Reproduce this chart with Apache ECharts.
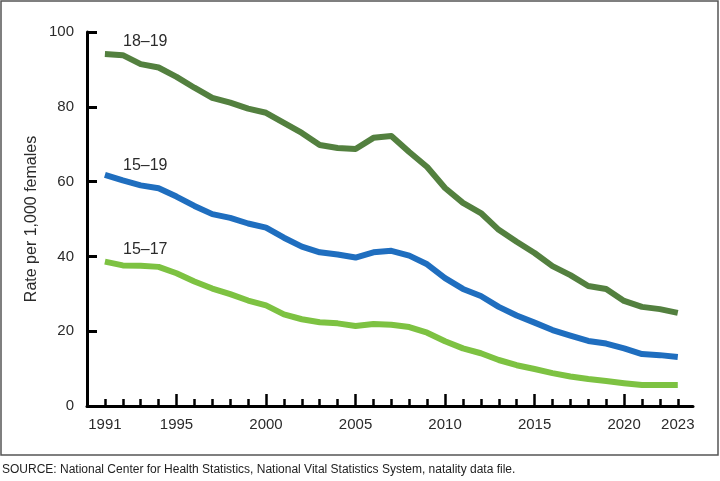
<!DOCTYPE html>
<html>
<head>
<meta charset="utf-8">
<script src="https://cdn.jsdelivr.net/npm/echarts@6/dist/echarts.min.js"></script>
<style>
  html, body { margin: 0; padding: 0; background: #fff; }
  #chart { width: 720px; height: 481px; }
</style>
</head>
<body>
<div id="chart"></div>
<script>
var years = [1991,1992,1993,1994,1995,1996,1997,1998,1999,2000,
             2001,2002,2003,2004,2005,2006,2007,2008,2009,2010,
             2011,2012,2013,2014,2015,2016,2017,2018,2019,2020,
             2021,2022,2023];
var rate1819 = [94.1,93.8,91.4,90.5,88.0,85.1,82.4,81.1,79.5,78.4,
                75.7,73.0,69.8,69.0,68.7,71.7,72.2,67.9,63.9,58.3,
                54.3,51.6,47.1,43.9,40.9,37.4,35.0,32.1,31.3,28.1,
                26.5,25.9,24.9];
var rate1519 = [61.8,60.3,59.0,58.2,56.0,53.5,51.3,50.3,48.8,47.7,
                45.0,42.6,41.1,40.5,39.7,41.1,41.5,40.2,37.9,34.2,
                31.3,29.4,26.5,24.2,22.3,20.3,18.8,17.4,16.7,15.4,
                13.9,13.6,13.1];
var rate1517 = [38.6,37.6,37.5,37.2,35.5,33.3,31.4,29.9,28.2,26.9,
                24.5,23.2,22.4,22.1,21.4,21.9,21.7,21.1,19.6,17.3,
                15.4,14.1,12.3,10.9,9.9,8.8,7.9,7.2,6.7,6.1,
                5.6,5.6,5.6];
var minorTicks = years;
var majorTicks = [1995,2000,2005,2010,2015,2020];
var xLabels = [1991,1995,2000,2005,2010,2015,2020,2023];
var yTicks = [0,20,40,60,80,100];

function pairs(vals) {
    return years.map(function (y, i) { return [y, vals[i]]; });
}

var font = 'Liberation Sans, Arial, sans-serif';
var txt = '#2b2b2b';

var option = {
    animation: false,
    backgroundColor: '#fff',
    grid: {
        left: 87, right: 27, top: 32, bottom: 75,
        containLabel: false,
        outerBoundsMode: 'none'
    },
    xAxis: [{
        type: 'value',
        min: 1990, max: 2023.85,
        splitLine: { show: false },
        axisLine: { lineStyle: { color: '#000', width: 3 } },
        axisTick: {
            show: true, inside: true, length: 7,
            customValues: minorTicks,
            lineStyle: { color: '#000', width: 2.5 }
        },
        axisLabel: {
            customValues: xLabels,
            color: txt, fontSize: 15, fontFamily: font, margin: 11,
            formatter: function (v) { return String(v); }
        }
    }, {
        type: 'value',
        min: 1990, max: 2023.85,
        position: 'bottom',
        splitLine: { show: false },
        axisLine: { show: false },
        axisTick: {
            show: true, inside: true, length: 12,
            customValues: majorTicks,
            lineStyle: { color: '#000', width: 2.5 }
        },
        axisLabel: { show: false }
    }],
    yAxis: {
        type: 'value',
        min: 0, max: 100, interval: 20,
        splitLine: { show: false },
        axisLine: { show: true, lineStyle: { color: '#000', width: 3 } },
        axisTick: {
            show: true, inside: true, length: 10,
            customValues: yTicks,
            lineStyle: { color: '#000', width: 3 }
        },
        axisLabel: { color: txt, fontSize: 15, fontFamily: font, margin: 13 },
        name: 'Rate per 1,000 females',
        nameLocation: 'middle',
        nameRotate: 90,
        nameGap: 47,
        nameMoveOverlap: false,
        nameTextStyle: { color: txt, fontSize: 16, fontFamily: font }
    },
    series: [{
        name: '18–19', type: 'line', xAxisIndex: 0,
        data: pairs(rate1819), showSymbol: false,
        lineStyle: { color: '#53803f', width: 6, cap: 'butt', join: 'round' }
    }, {
        name: '15–19', type: 'line', xAxisIndex: 0,
        data: pairs(rate1519), showSymbol: false,
        lineStyle: { color: '#1f6ebf', width: 6, cap: 'butt', join: 'round' }
    }, {
        name: '15–17', type: 'line', xAxisIndex: 0,
        data: pairs(rate1517), showSymbol: false,
        lineStyle: { color: '#7dc242', width: 6, cap: 'butt', join: 'round' }
    }],
    graphic: [
        { type: 'rect', shape: { x: 1, y: 1, width: 717, height: 454 },
          style: { fill: 'none', stroke: '#555', lineWidth: 1.5 }, silent: true },
        { type: 'text', left: 123, top: 34,
          style: { text: '18–19', fill: txt, fontSize: 16, fontFamily: font } },
        { type: 'text', left: 123, top: 158,
          style: { text: '15–19', fill: txt, fontSize: 16, fontFamily: font } },
        { type: 'text', left: 123, top: 242,
          style: { text: '15–17', fill: txt, fontSize: 16, fontFamily: font } },
        { type: 'text', left: 2, top: 464,
          style: { text: 'SOURCE: National Center for Health Statistics, National Vital Statistics System, natality data file.',
                   fill: '#222', fontSize: 12, fontFamily: font } }
    ]
};

var chart = echarts.init(document.getElementById('chart'));
chart.setOption(option);
</script>
</body>
</html>
